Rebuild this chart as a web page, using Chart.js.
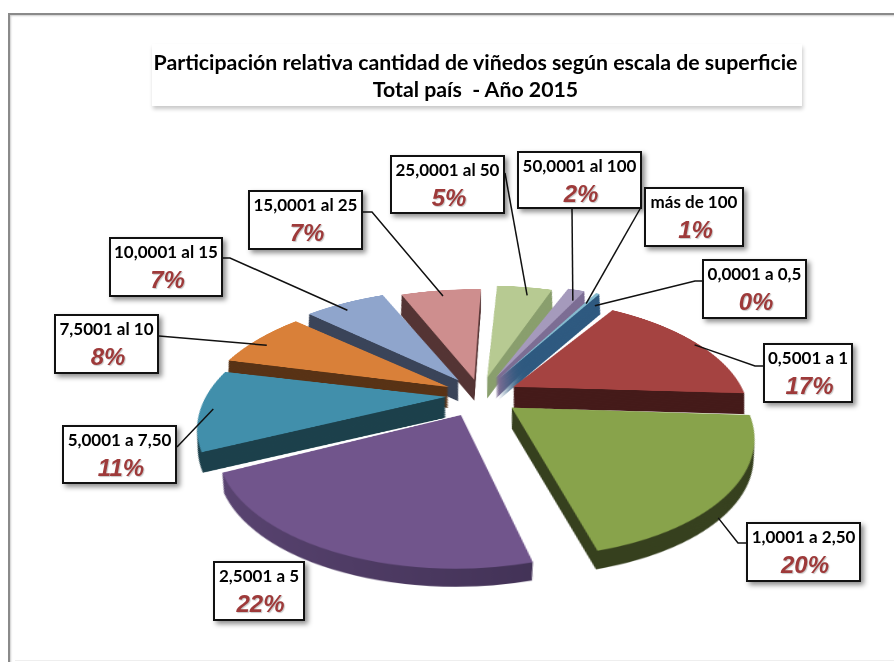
<!DOCTYPE html>
<html><head><meta charset="utf-8">
<script src="https://cdn.jsdelivr.net/npm/chart.js@4"></script>
<style>
html,body{margin:0;padding:0;background:#fff;overflow:hidden;width:894px;height:662px}
#stage{position:relative;width:894px;height:662px;overflow:hidden}
#frame{position:absolute;left:8px;top:13px;width:900px;height:700px;border:2px solid #8a8a8a;border-right:none;border-bottom:none;box-shadow:inset 1px 1px 2px #ccc}
#foot{position:absolute;left:15px;top:660px;width:879px;height:1px;background:#eee}
#plane{position:absolute;left:130px;top:45px;width:700px;height:700px;transform:perspective(913px) rotateX(61.2deg);transform-origin:50% 50%}
#lines{position:absolute;left:0;top:0}
#title{position:absolute;left:152px;top:44px;width:650px;height:62px;background:#fff;box-shadow:1px 3px 4px rgba(0,0,0,.22);font:700 21.3px/27px Lato,sans-serif;text-align:center;color:#000;padding-top:5px;padding-right:3px;box-sizing:border-box;white-space:nowrap}
.box{position:absolute;background:#fff;border:2px solid #111;box-sizing:border-box;box-shadow:3px 3px 5px rgba(0,0,0,.45);text-align:center;white-space:nowrap}
.cat{font:700 17px/20px Lato,sans-serif;color:#000;margin-top:3px}
.pct{font:italic 700 24px/26px "Liberation Sans",sans-serif;color:#9e3a3a;margin-top:5px;padding-left:3px;text-shadow:1px 1px 1px rgba(0,0,0,.22)}
</style></head><body>
<div id="stage">
<div id="frame"></div><div id="foot"></div>
<div id="plane"><canvas id="pie" width="700" height="700"></canvas></div>
<svg id="lines" width="894" height="662"></svg>
<div id="title">Participación relativa cantidad de viñedos según escala de superficie<br>Total país &nbsp;- Año 2015</div>
</div>
<script>
const categories=["0,0001 a 0,5","0,5001 a 1","1,0001 a 2,50","2,5001 a 5","5,0001 a 7,50","7,5001 al 10","10,0001 al 15","15,0001 al 25","25,0001 al 50","50,0001 al 100","más de 100"];
const shares=[0.45,17,20,22,11,8,7,7,5,2,1];
const percentLabels=["0%","17%","20%","22%","11%","8%","7%","7%","5%","2%","1%"];
const explode=[38,38,40,44,34,36,38,33,38,40,39];
const topColors=["#4F81BD","#A54341","#88A34B","#71558C","#418FAB","#D98039","#8FA5CC","#CE8E8E","#B7CA92","#A59ABC","#86BCD0"];
const wallColors=["#2B5277","#451B1A","#37411F","#4E3C66","#1D414C","#593316","#3A4459","#553535","#8A9F6E","#7D6E94","#2F5A80"];
// layout of the callouts: box [left, top, width, height], leader start at the box side, optional elbow
const boxes=[[702,259,105,60],[763,343,90,60],[746,522,115,60],[213,561,92,60],[62,425,115,59],[54,314,105,60],[109,237,114,60],[248,190,115,60],[390,155,115,59],[517,151,125,58],[644,187,100,60]];
const leaderStart=[[702,281],[763,366],[746,543],null,[177,447],[159,336],[223,258],[363,212],[505,173],[572,209],[640,209]];
const leaderElbow=[[695,281],[755,366],[738,543],null,null,null,[230,258],[372,212],null,null,null];
const leaderAngle=[.5,.52,.55,0,.5,.42,.42,.5,.6,.75,.5];
const leaderDrop=[0,0,18,0,0,0,0,0,0,0,0];

const PERSP=913,TILT=61.2*Math.PI/180,CX=480,CY=395;
function project(x,y){const X=x-350,Y=y-350,z=Y*Math.sin(TILT),s=PERSP/(PERSP-z);return [CX+X*s,CY+Y*Math.cos(TILT)*s];}

const DEPTH_LAYERS=30;
const extrude={id:'extrude',beforeDatasetsDraw(chart){
  const ctx=chart.ctx,meta=chart.getDatasetMeta(0),cx=(chart.chartArea.left+chart.chartArea.right)/2,cy=(chart.chartArea.top+chart.chartArea.bottom)/2;
  const order=meta.data.map((a,i)=>i).sort((p,q)=>{const m=i=>(meta.data[i].startAngle+meta.data[i].endAngle)/2;return Math.sin(m(p))-Math.sin(m(q));});
  const purpleWall=ctx.createLinearGradient(120,0,480,0);purpleWall.addColorStop(0,"#5C4674");purpleWall.addColorStop(1,"#3D2E50");
  for(const i of order){
    const arc=meta.data[i],orig=arc.options;
    arc.options=Object.assign({},orig,{backgroundColor:i===3?purpleWall:wallColors[i],borderWidth:0});
    for(let l=DEPTH_LAYERS;l>=1;l--){const t=l/DEPTH_LAYERS;
      ctx.save();ctx.translate(cx,cy+41.6*t);ctx.scale(1-.04*t,1-.08*t);ctx.translate(-cx,-cy);arc.draw(ctx);ctx.restore();}
    arc.options=orig;
    arc.draw(ctx);
  }
  return false;
}};
const chart=new Chart(document.getElementById('pie'),{type:'pie',
 data:{labels:categories,datasets:[{data:shares,backgroundColor:topColors,borderWidth:0,offset:explode.map(d=>d*4),hoverOffset:0}]},
 options:{responsive:false,animation:false,devicePixelRatio:2,rotation:31,layout:{padding:35},events:[],plugins:{legend:{display:false},tooltip:{enabled:false},title:{display:false}}},
 plugins:[extrude]});

const svg=document.getElementById('lines'),stage=document.getElementById('stage'),meta=chart.getDatasetMeta(0);
categories.forEach((c,i)=>{
  const b=boxes[i],d=document.createElement('div');d.className='box';
  d.style.cssText=`left:${b[0]}px;top:${b[1]}px;width:${b[2]}px;height:${b[3]}px`;
  d.innerHTML=`<div class="cat">${c}</div><div class="pct">${percentLabels[i]}</div>`;stage.appendChild(d);
  if(!leaderStart[i])return;
  const a=meta.data[i],ang=a.startAngle+(a.endAngle-a.startAngle)*leaderAngle[i],r=a.outerRadius,mid=(a.startAngle+a.endAngle)/2;
  const ax=a.x+Math.cos(mid)*explode[i]+Math.cos(ang)*r,ay=a.y+Math.sin(mid)*explode[i]+Math.sin(ang)*r;
  const p=project(ax,ay);p[1]+=leaderDrop[i];const pts=[leaderStart[i]];if(leaderElbow[i])pts.push(leaderElbow[i]);pts.push(p);
  const pl=document.createElementNS('http://www.w3.org/2000/svg','polyline');
  pl.setAttribute('points',pts.map(q=>q.join(',')).join(' '));pl.setAttribute('fill','none');pl.setAttribute('stroke','#111');pl.setAttribute('stroke-width','1.5');svg.appendChild(pl);
});
</script>
</body></html>
